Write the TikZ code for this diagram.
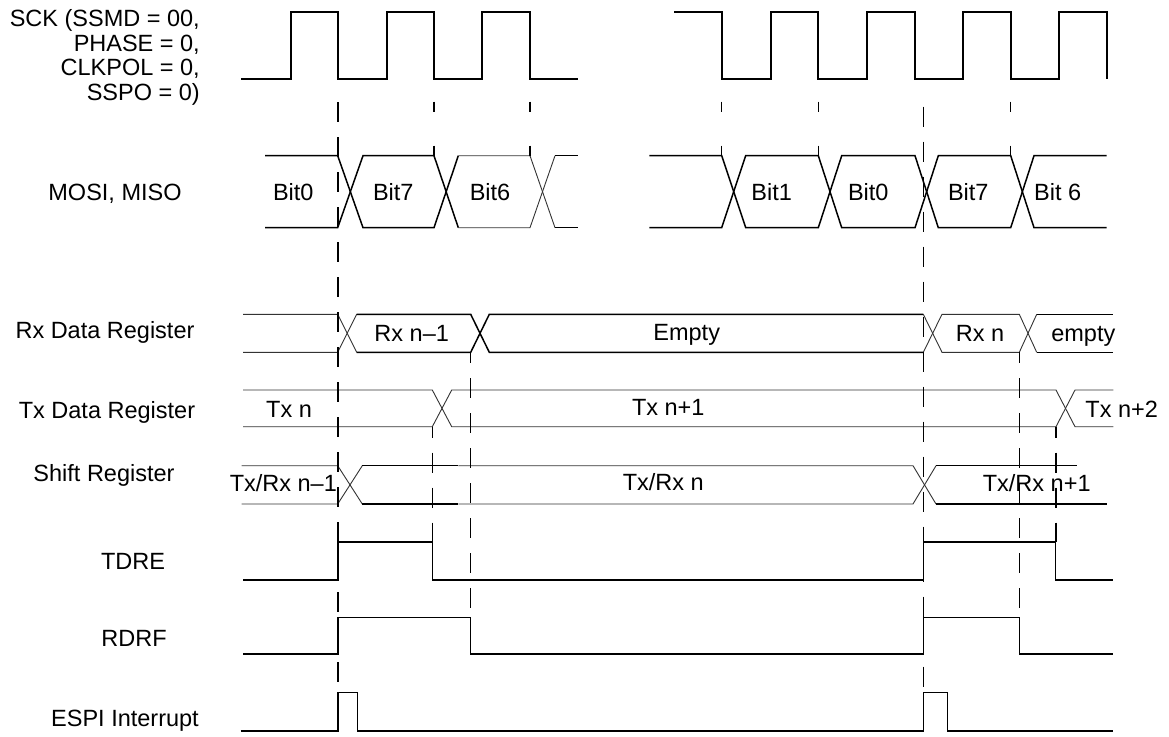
\documentclass[tikz,border=0pt]{standalone}
\usepackage{fontspec}
\setmainfont{Liberation Sans}
\tikzset{
  lbl/.style={font=\fontsize{23.5}{23.7}\selectfont, inner sep=0pt, text height=16.8pt, text depth=0pt},
  clk/.style={line width=1.7pt},
  sig/.style={line width=1.5pt},
  thinsig/.style={line width=0.9pt, black!80},
  guide/.style={line width=1.5pt, dash pattern=on 20pt off 15pt},
  tick/.style={line width=1.5pt, dash pattern=on 10.6pt off 33.4pt}
}
\begin{document}
\begin{tikzpicture}[x=1pt,y=-1pt]
\useasboundingbox (0,0) rectangle (1169,736);
% signal names
\node[font=\fontsize{23.5}{24.5}\selectfont, align=right, inner sep=0pt, anchor=east] (sckname) at (200,57.5) {SCK (SSMD = 00,\\PHASE = 0,\\CLKPOL = 0,\\SSPO = 0)};
\node[lbl] (mosiname) at (115,191.7) {MOSI, MISO};
\node[lbl] (rxname) at (105,330) {Rx Data Register};
\node[lbl] (txname) at (107,410) {Tx Data Register};
\node[lbl] (shname) at (104,473) {Shift Register};
\node[lbl] (tdrename) at (133,561) {TDRE};
\node[lbl] (rdrfname) at (134,638) {RDRF};
\node[lbl] (espiname) at (125,718) {ESPI Interrupt};
% SCK
\draw[clk] (241,79) -- (290.7,79) -- (290.7,11.7) -- (337.7,11.7) -- (337.7,79) -- (386.7,79) -- (386.7,11.7) -- (434,11.7) -- (434,79) -- (482.3,79) -- (482.3,11.7) -- (530,11.7) -- (530,79) -- (578.3,79);
\draw[clk] (674,11.7) -- (721.7,11.7) -- (721.7,79) -- (770.7,79) -- (770.7,11.7) -- (818.3,11.7) -- (818.3,79) -- (866.7,79) -- (866.7,11.7) -- (915,11.7) -- (915,79) -- (962.7,79) -- (962.7,11.7) -- (1010.7,11.7) -- (1010.7,79) -- (1059,79) -- (1059,11.7) -- (1106.7,11.7) -- (1106.7,79);
% MOSI, MISO
\draw[sig] (265,155.7) -- (337.7,155.7) -- (363,227.7) -- (434,227.7) -- (458.3,155.7);
\draw[sig] (265,227.7) -- (337.7,227.7) -- (363,155.7) -- (434,155.7) -- (458.3,227.7);
\draw[thinsig] (458.3,155.7) -- (530,155.7) -- (555,227.7);
\draw[thinsig] (458.3,227.7) -- (530,227.7) -- (555,155.7);
\draw[sig] (555,155.7) -- (578.3,155.7);
\draw[sig] (555,227.7) -- (578.3,227.7);
\draw[sig] (649.3,155.7) -- (721.7,155.7) -- (745.7,227.7) -- (818.3,227.7) -- (841.7,155.7) -- (915,155.7) -- (938.3,227.7) -- (1010.7,227.7) -- (1034,155.7) -- (1106.7,155.7);
\draw[sig] (649.3,227.7) -- (721.7,227.7) -- (745.7,155.7) -- (818.3,155.7) -- (841.7,227.7) -- (915,227.7) -- (938.3,155.7) -- (1010.7,155.7) -- (1034,227.7) -- (1106.7,227.7);
\node[lbl] (b0a) at (293.3,191.7) {Bit0};
\node[lbl] (b7a) at (393.3,191.7) {Bit7};
\node[lbl] (b6a) at (490,191.7) {Bit6};
\node[lbl] (b1b) at (771.7,191.7) {Bit1};
\node[lbl] (b0b) at (868.3,191.7) {Bit0};
\node[lbl] (b7b) at (968.3,191.7) {Bit7};
\node[lbl] (b6b) at (1057.7,191.7) {Bit 6};
% Rx Data Register
\draw[thinsig] (243,314.3) -- (337.7,314.3) -- (356.7,352.3);
\draw[thinsig] (243,352.3) -- (337.7,352.3) -- (356.7,314.3);
\draw[sig] (356.7,314.3) -- (470.7,314.3) -- (489.3,352.3) -- (923.3,352.3);
\draw[sig] (356.7,352.3) -- (470.7,352.3) -- (489.3,314.3) -- (923.3,314.3);
\draw[thinsig] (923.3,352.3) -- (942,314.3) -- (1019.3,314.3) -- (1036.7,352.3);
\draw[thinsig] (923.3,314.3) -- (942,352.3) -- (1019.3,352.3) -- (1036.7,314.3);
\draw[sig] (1036.7,314.3) -- (1113.3,314.3);
\draw[sig] (1036.7,352.3) -- (1113.3,352.3);
\node[lbl] (rxa) at (411.7,333) {Rx n–1};
\node[lbl] (rxb) at (686.7,331.7) {Empty};
\node[lbl] (rxc) at (980,333) {Rx n};
\node[lbl] (rxd) at (1083.3,333) {empty};
% Tx Data Register
\draw[thinsig] (243,390) -- (432.3,390) -- (451.7,426.7) -- (1056,426.7) -- (1075,390) -- (1113.3,390);
\draw[thinsig] (243,426.7) -- (432.3,426.7) -- (451.7,390) -- (1056,390) -- (1075,426.7) -- (1113.3,426.7);
\node[lbl] (txa) at (289,409) {Tx n};
\node[lbl] (txb) at (668.3,406.7) {Tx n+1};
\node[lbl] (txc) at (1121.7,409) {Tx n+2};
% Shift Register
\draw[thinsig] (241.7,465.7) -- (337.7,465.7) -- (362.3,504);
\draw[thinsig] (241.7,504) -- (337.7,504) -- (362.3,465.7);
\draw[sig] (362.3,465.7) -- (458.3,465.7);
\draw[sig] (362.3,504) -- (458.3,504);
\draw[thinsig] (458.3,465.7) -- (913,465.7) -- (936,504);
\draw[thinsig] (458.3,504) -- (913,504) -- (936,465.7);
\draw[sig] (936,465.7) -- (1076.7,465.7);
\draw[sig] (936,504) -- (1106.7,504);
\node[lbl] (sha) at (283.3,483.3) {Tx/Rx n–1};
\node[lbl] (shb) at (663.3,481.7) {Tx/Rx n};
\node[lbl] (shc) at (1036.7,483.3) {Tx/Rx n+1};
% TDRE, RDRF, ESPI Interrupt
\draw[sig] (243.3,580) -- (338,580) -- (338,542) -- (432.3,542) -- (432.3,580) -- (923.7,580) -- (923.7,542) -- (1055.7,542) -- (1055.7,580) -- (1113.3,580);
\draw[sig] (243.3,654) -- (338,654) -- (338,617.7) -- (470.7,617.7) -- (470.7,654) -- (923.7,654) -- (923.7,617.7) -- (1019.3,617.7) -- (1019.3,654) -- (1113.3,654);
\draw[sig] (240.7,731) -- (338,731) -- (338,692.7) -- (357.3,692.7) -- (357.3,731) -- (923.7,731) -- (923.7,692.7) -- (947.3,692.7) -- (947.3,731) -- (1113.3,731);
% timing guides
\draw[guide] (338,102) -- (338,692.7);
\draw[guide] (923.5,106.7) -- (923.5,692.7);
\draw[guide, dash phase=9pt] (470.7,352.3) -- (470.7,617.7);
\draw[guide, dash phase=9pt] (1019.3,352.3) -- (1019.3,617.7);
\draw[guide, dash phase=9pt] (432.3,426.7) -- (432.3,542);
\draw[guide, dash phase=9pt] (1056,426.7) -- (1056,542);
\draw[tick] (434,101.7) -- (434,155.7);
\draw[tick] (530,101.7) -- (530,155.7);
\draw[tick] (721.7,101.7) -- (721.7,155.7);
\draw[tick] (818.3,101.7) -- (818.3,155.7);
\draw[tick] (1010.7,101.7) -- (1010.7,155.7);
\end{tikzpicture}
\end{document}
